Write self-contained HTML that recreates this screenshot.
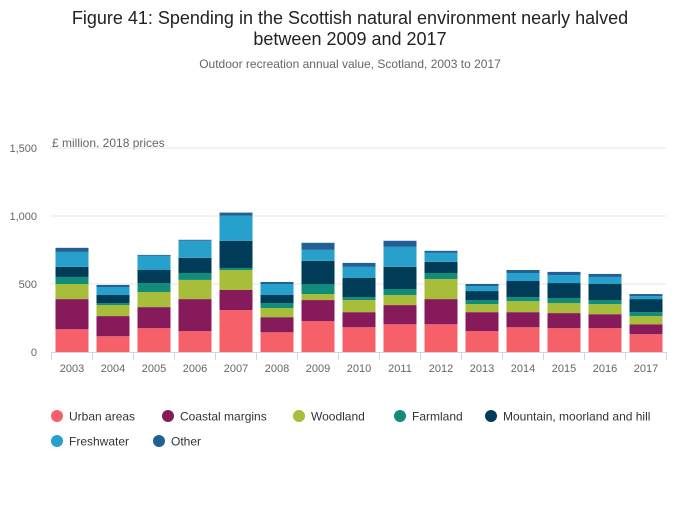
<!DOCTYPE html>
<html><head><meta charset="utf-8"><style>
body{margin:0;background:#fff;font-family:"Liberation Sans",sans-serif}
svg text{font-family:"Liberation Sans",sans-serif}
</style></head><body>
<svg id="chart" width="700" height="502" viewBox="0 0 700 502">
<text x="350" y="24" text-anchor="middle" font-size="18" fill="#222">Figure 41: Spending in the Scottish natural environment nearly halved</text>
<text x="350" y="45" text-anchor="middle" font-size="18" fill="#222">between 2009 and 2017</text>
<text x="350" y="68" text-anchor="middle" font-size="12" fill="#666">Outdoor recreation annual value, Scotland, 2003 to 2017</text>
<text x="52" y="147" font-size="12" fill="#666">£ million, 2018 prices</text>
<g id="grid"></g><g id="bars"></g><g id="axis"></g><g id="legend"></g>
</svg>
<script>
const years=["2003","2004","2005","2006","2007","2008","2009","2010","2011","2012","2013","2014","2015","2016","2017"];
const seriesNames=["Urban areas","Coastal margins","Woodland","Farmland","Mountain, moorland and hill","Freshwater","Other"];
const colors=["#f66068","#871a5b","#a8bd3a","#118c7b","#003c57","#27a0cc","#206095"];
const urban=[167,116,175,153,308,145,227,182,204,204,153,182,175,175,131];
const coastal=[222,148,155,236,148,111,155,111,141,185,140,111,111,103,73];
const woodland=[111,81,111,141,147,67,44,89,74,148,59,81,74,74,60];
const farmland=[52,15,66,51,15,37,74,22,44,44,30,30,37,30,29];
const mountain=[74,59,96,111,200,59,170,140,163,82,66,118,110,118,96];
const freshwater=[110,59,104,126,184,81,81,82,147,66,37,59,59,52,22];
const other=[30,15,7,7,23,15,52,29,45,15,15,22,23,22,15];
const yTicks=[0,500,1000,1500];
const series=[urban,coastal,woodland,farmland,mountain,freshwater,other];
const NS="http://www.w3.org/2000/svg";
const x0=51.5,band=41,yBase=352,scale=68/500;
const y=v=>yBase-v*scale;
const xb=i=>x0+i*band;
function mk(t,a,p){const e=document.createElementNS(NS,t);for(const k in a)e.setAttribute(k,a[k]);p.appendChild(e);return e;}
const grid=document.getElementById('grid'),bars=document.getElementById('bars'),axis=document.getElementById('axis'),leg=document.getElementById('legend');
yTicks.forEach(t=>{
 if(t>0){const l=mk('line',{x1:50,x2:666,y1:y(t),y2:y(t),stroke:'#e4e4e4','stroke-width':1},grid);
 
 }
 const tx=mk('text',{x:37,y:y(t)+4,'text-anchor':'end','font-size':11,fill:'#666'},grid);
 tx.textContent=t.toLocaleString('en-US');
 
 
});
years.forEach((yr,i)=>{
 let cum=0;
 series.forEach((s,k)=>{
  const v=s[i];
  const r=mk('rect',{x:xb(i)+4,width:band-8,y:y(cum+v),height:v*scale,fill:colors[k]},bars);
  
  
  cum+=v;
 });
 const t=mk('text',{x:xb(i)+band/2,y:372,'text-anchor':'middle','font-size':11,fill:'#666'},axis);
 t.textContent=yr;
 
 
});
const ax=mk('line',{x1:x0,x2:x0+band*years.length,y1:yBase+0.5,y2:yBase+0.5,stroke:'#ccd6eb','stroke-width':1},axis);


for(let i=0;i<=years.length;i++){
 const tk=mk('line',{x1:xb(i),x2:xb(i),y1:yBase,y2:yBase+8,stroke:'#ccd6eb','stroke-width':1},axis);
 
 
}
const legPos=[[57,416],[168,416],[299,416],[400,416],[491,416],[57,441],[159,441]];
seriesNames.forEach((n,k)=>{
 const g=mk('g',{},leg);
 
 
 mk('circle',{cx:legPos[k][0],cy:legPos[k][1],r:6,fill:colors[k]},g);
 const t=mk('text',{x:legPos[k][0]+12,y:legPos[k][1]+4.5,'font-size':12,fill:'#333'},g);
 t.textContent=n;
});
</script>
</body></html>
